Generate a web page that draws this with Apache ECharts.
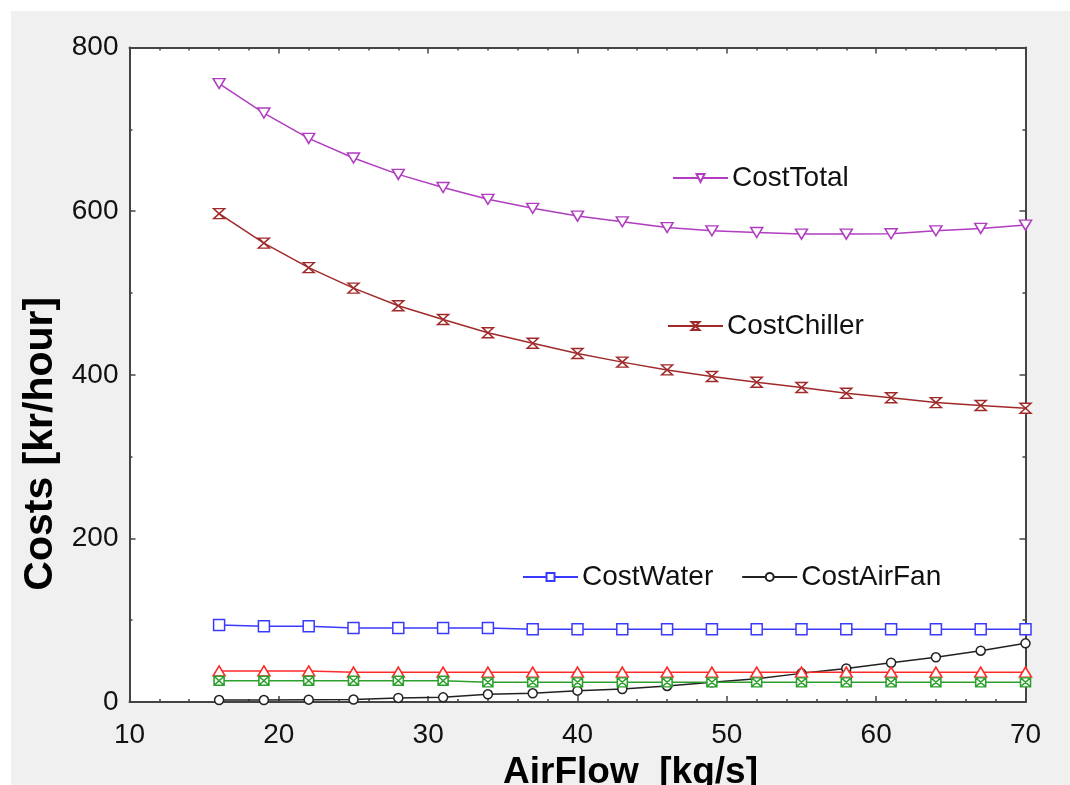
<!DOCTYPE html>
<html>
<head>
<meta charset="utf-8">
<script src="https://cdn.jsdelivr.net/npm/echarts@6/dist/echarts.min.js"></script>
<style>
html,body{margin:0;padding:0;background:#ffffff;}
#chart{position:absolute;left:11px;top:11px;width:1059px;height:774px;}
</style>
</head>
<body>
<div id="chart"></div>
<script>
// ---- data ----
var airFlow = [16, 19, 22, 25, 28, 31, 34, 37, 40, 43, 46, 49, 52, 55, 58, 61, 64, 67, 70];
var costTotal = [756, 720, 689, 665, 645, 629, 614.5, 603.5, 594, 587, 580, 576, 574, 572, 572, 572.5, 576, 579, 583];
var costChiller = [597, 561, 531, 506, 484.5, 467.5, 451.5, 438.5, 426, 415.5, 406, 398, 391, 384.5, 377.5, 372, 366, 362.5, 359];
var costWater = [94, 92.5, 92.5, 90.5, 90.5, 90.5, 90.5, 89, 89, 89, 89, 89, 89, 89, 89, 89, 89, 89, 89];
var costAirFan = [2.4, 2.4, 2.9, 3, 5, 5.7, 9.4, 10.6, 13.9, 15.9, 19.6, 24, 28.5, 35, 41, 48, 54.6, 62.7, 71.7];
var costRed = [38, 38, 38, 36.5, 36.5, 36.5, 36.5, 36.5, 36.5, 36.5, 36.5, 36.5, 36.5, 36.5, 36.5, 36.5, 36.5, 36.5, 36.5];
var costGreen = [26, 26, 26, 26, 26, 26, 24, 24, 24, 24, 24, 24, 24, 24, 24, 24, 24, 24, 24];
var xTicks = [10, 20, 30, 40, 50, 60, 70];
var yTicks = [0, 200, 400, 600, 800];

function pairs(ys) { return airFlow.map(function (x, i) { return [x, ys[i]]; }); }

var FONT = 'Arial, "Liberation Sans", sans-serif';
var AX = '#444444';

function mkSeries(name, ys, color, symbol, size) {
  return {
    name: name, type: 'line', data: pairs(ys),
    symbol: symbol, symbolSize: size, showAllSymbol: true,
    lineStyle: { color: color, width: 1.5 },
    itemStyle: { color: '#ffffff', borderColor: color, borderWidth: 1.5 },
    emphasis: { disabled: true }, animation: false
  };
}

var xBase = {
  type: 'value', min: xTicks[0], max: xTicks[xTicks.length - 1], interval: 10,
  splitLine: { show: false },
  axisLine: { show: true, onZero: false, lineStyle: { color: AX, width: 2 } },
  axisTick: { show: true, inside: true, length: 6, lineStyle: { color: AX, width: 1.5 } },
  minorTick: { show: true, splitNumber: 5, length: 3, lineStyle: { color: AX, width: 1.5 } }
};
var yBase = {
  type: 'value', min: yTicks[0], max: yTicks[yTicks.length - 1], interval: 200,
  splitLine: { show: false },
  axisLine: { show: true, onZero: false, lineStyle: { color: AX, width: 2 } },
  axisTick: { show: true, inside: true, length: 6, lineStyle: { color: AX, width: 1.5 } },
  minorTick: { show: true, splitNumber: 2, length: 3, lineStyle: { color: AX, width: 1.5 } }
};

var legendCommon = {
  orient: 'horizontal', padding: 0, itemWidth: 55, itemHeight: 10, selectedMode: false,
  textStyle: { fontFamily: FONT, fontSize: 28, color: '#111111', padding: [0, 0, 0, -1] }
};

var option = {
  backgroundColor: '#f0f0f0',
  animation: false,
  textStyle: { fontFamily: FONT },
  grid: { left: 118.5, right: 44.5, top: 36.6, bottom: 83, outerBoundsMode: 'none', containLabel: false, show: true, backgroundColor: '#ffffff', borderWidth: 0 },
  legend: [
    Object.assign({}, legendCommon, { data: ['CostTotal'], left: 661, top: 153 }),
    Object.assign({}, legendCommon, { data: ['CostChiller'], left: 656, top: 301 }),
    Object.assign({}, legendCommon, { data: ['CostWater', 'CostAirFan'], left: 511, top: 552, itemGap: 28 })
  ],
  xAxis: [
    Object.assign({}, xBase, {
      position: 'bottom',
      name: 'AirFlow  [kg/s]', nameLocation: 'middle', nameGap: 43,
      nameTextStyle: { fontFamily: FONT, fontSize: 37, fontWeight: 'bold', color: '#000', padding: [0, 0, 0, 106] },
      axisLabel: { show: true, fontFamily: FONT, fontSize: 28, color: '#111', margin: 19 }
    }),
    Object.assign({}, xBase, { position: 'top', axisLabel: { show: false } })
  ],
  yAxis: [
    Object.assign({}, yBase, {
      position: 'left',
      name: 'Costs [kr/hour]', nameLocation: 'middle', nameGap: 68,
      nameTextStyle: { fontFamily: FONT, fontSize: 41, fontWeight: 'bold', color: '#000', padding: [0, 138, 0, 0] },
      axisLabel: { show: true, fontFamily: FONT, fontSize: 28, color: '#111', margin: 11 }
    }),
    Object.assign({}, yBase, { position: 'right', axisLabel: { show: false } })
  ],
  series: [
    mkSeries('CostTotal', costTotal, '#b03cc0', 'path://M0,0 L10,0 L5,9 Z', [12, 10]),
    mkSeries('CostChiller', costChiller, '#a02a2a', 'path://M0,0 L10,0 L0,10 L10,10 Z', [11, 10]),
    mkSeries('CostWater', costWater, '#3a3aff', 'rect', 11),
    mkSeries('CostAirFan', costAirFan, '#222222', 'circle', 9),
    mkSeries('CostPump', costRed, '#ff2a2a', 'path://M5,0 L10,9 L0,9 Z', [12, 10]),
    mkSeries('CostOther', costGreen, '#2ca02c', 'path://M0,0 L10,0 L10,10 L0,10 Z M0,0 L10,10 M10,0 L0,10', [10, 9])
  ]
};

var chart = echarts.init(document.getElementById('chart'), null, { renderer: 'canvas' });
chart.setOption(option);
</script>
</body>
</html>
